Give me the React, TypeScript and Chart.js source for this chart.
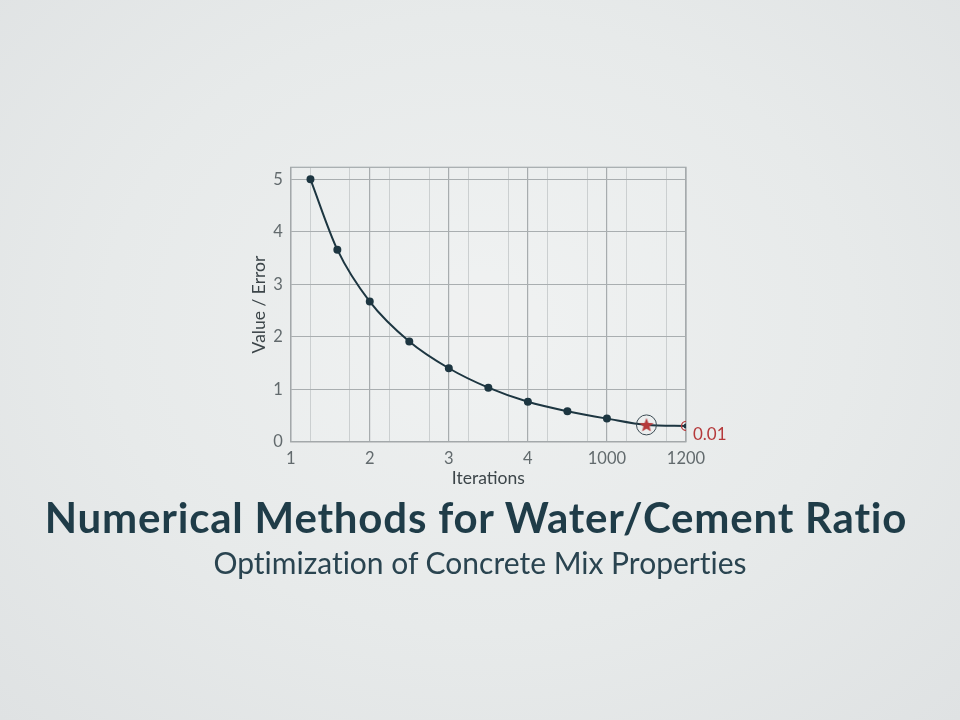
import React, { useEffect, useRef } from "react";
import { Chart, registerables } from "chart.js";

Chart.register(...registerables);

// ---- data ----
const xTickLabels = ["1", "2", "3", "4", "1000", "1200"];
const iterations = [1.25, 1.59, 2.0, 2.5, 3.0, 3.5, 4.0, 4.5, 5.0, 5.5, 6.0];
const errorValues = [5.0, 3.66, 2.67, 1.91, 1.4, 1.03, 0.76, 0.58, 0.44, 0.32, 0.3];
const gridPositions = [1, 1.25, 1.75, 2, 2.25, 2.75, 3, 3.25, 3.75, 4, 4.25, 4.75, 5, 5.25, 5.75, 6];
const yTicks = [0, 1, 2, 3, 4, 5];
const optimumIndex = 9;
const convergedIndex = 10;
const convergedLabel = "0.01";

const TITLE = "Numerical Methods for Water/Cement Ratio";
const SUBTITLE = "Optimization of Concrete Mix Properties";

const INK = "#1d3641";
const RED = "#b5393b";

function makeStar(): HTMLCanvasElement {
  const c = document.createElement("canvas");
  c.width = 18;
  c.height = 18;
  const g = c.getContext("2d")!;
  g.fillStyle = RED;
  g.beginPath();
  const cx = 9, cy = 9.5, ro = 7.5, ri = 3.2;
  for (let i = 0; i < 10; i++) {
    const r = i % 2 === 0 ? ro : ri;
    const a = -Math.PI / 2 + (i * Math.PI) / 5;
    const px = cx + r * Math.cos(a);
    const py = cy + r * Math.sin(a);
    if (i === 0) g.moveTo(px, py);
    else g.lineTo(px, py);
  }
  g.closePath();
  g.fill();
  return c;
}

export default function App() {
  const ref = useRef<HTMLCanvasElement | null>(null);

  useEffect(() => {
    if (!ref.current) return;
    const star = makeStar();
    const pts = iterations.map((x, i) => ({ x, y: errorValues[i] }));

    const framePlugin = {
      id: "frame",
      beforeDatasetsDraw(chart: any) {
        const { ctx, chartArea } = chart;
        ctx.save();
        ctx.strokeStyle = "#a4a9ab";
        ctx.lineWidth = 1.2;
        ctx.strokeRect(chartArea.left, chartArea.top, chartArea.right - chartArea.left, chartArea.bottom - chartArea.top);
        ctx.restore();
      },
      beforeDraw(chart: any) {
        const { ctx, chartArea } = chart;
        ctx.save();
        ctx.fillStyle = "rgba(255,255,255,0.12)";
        ctx.fillRect(chartArea.left, chartArea.top, chartArea.right - chartArea.left, chartArea.bottom - chartArea.top);
        ctx.restore();
      },
      afterDatasetsDraw(chart: any) {
        const meta = chart.getDatasetMeta(0);
        const p = meta.data[convergedIndex];
        if (!p) return;
        const { ctx } = chart;
        ctx.save();
        ctx.fillStyle = RED;
        ctx.font = "17px Lato";
        ctx.textAlign = "left";
        ctx.textBaseline = "middle";
        ctx.fillText(convergedLabel, p.x + 7, p.y + 9);
        ctx.restore();
      },
    };

    const chart = new Chart(ref.current, {
      type: "scatter",
      data: {
        datasets: [
          {
            data: pts,
            showLine: true,
            borderColor: INK,
            borderWidth: 2,
            cubicInterpolationMode: "monotone",
            pointBackgroundColor: INK,
            pointBorderColor: INK,
            pointRadius: pts.map((_, i) => (i === optimumIndex ? 0 : i === convergedIndex ? 1.5 : 3)),
            order: 2,
          } as any,
          {
            data: [pts[optimumIndex]],
            pointStyle: star as any,
            pointRadius: 9,
            order: 1,
          } as any,
          {
            data: [pts[optimumIndex]],
            pointRadius: 10,
            pointBackgroundColor: "rgba(0,0,0,0)",
            pointBorderColor: "#3a4a52",
            pointBorderWidth: 1,
            order: 0,
          } as any,
          {
            data: [pts[convergedIndex]],
            pointRadius: 4.5,
            pointBackgroundColor: "rgba(0,0,0,0)",
            pointBorderColor: RED,
            pointBorderWidth: 1.3,
            order: 0,
          } as any,
        ],
      },
      options: {
        animation: false,
        responsive: false,
        events: [],
        layout: { padding: { left: 248.4, right: 274, top: 167.3, bottom: 232.4 } },
        plugins: { legend: { display: false }, tooltip: { enabled: false }, title: { display: false } },
        scales: {
          x: {
            type: "linear",
            min: 1,
            max: 6,
            afterBuildTicks: (s: any) => {
              s.ticks = gridPositions.map((v) => ({ value: v }));
            },
            afterFit: (s: any) => {
              s.height = 45.9;
            },
            ticks: {
              autoSkip: false,
              maxRotation: 0,
              padding: 7,
              color: "#626a6d",
              font: { family: "Lato", size: 16.5 },
              callback: (v: any) => (Number.isInteger(v) ? xTickLabels[v - 1] : ""),
            },
            grid: {
              drawTicks: false,
              color: (c: any) => (Number.isInteger(c.tick?.value) ? "#a7acae" : "#cbcfd0"),
              lineWidth: (c: any) => (Number.isInteger(c.tick?.value) ? 1.2 : 1),
            },
            border: { color: "#9ea3a5", width: 1.2 },
            title: {
              display: true,
              text: "Iterations",
              color: "#3c4549",
              font: { family: "Lato", size: 17.5 },
              padding: { top: 0, bottom: -1.5 },
            },
          },
          y: {
            type: "linear",
            min: 0,
            max: 5.23,
            afterBuildTicks: (s: any) => {
              s.ticks = yTicks.map((v) => ({ value: v }));
            },
            afterFit: (s: any) => {
              s.width = 42.3;
            },
            ticks: {
              padding: 8,
              color: "#626a6d",
              font: { family: "Lato", size: 16.5 },
            },
            grid: { drawTicks: false, color: "#a9aeb0", lineWidth: 1.1 },
            border: { color: "#9ea3a5", width: 1.2 },
            title: {
              display: true,
              text: "Value / Error",
              color: "#3c4549",
              font: { family: "Lato", size: 17.5 },
              padding: 0,
            },
          },
        },
      } as any,
      plugins: [framePlugin],
    });
    return () => chart.destroy();
  }, []);

  return (
    <div
      style={{
        position: "absolute",
        left: 0,
        top: 0,
        width: 960,
        height: 720,
        overflow: "hidden",
        background: "radial-gradient(ellipse at 50% 45%, #eef0f0 0%, #e7eaea 55%, #dfe2e3 100%)",
      }}
    >
      <canvas ref={ref} width={960} height={720} style={{ position: "absolute", left: 0, top: 0, width: 960, height: 720 }} />
      <div
        style={{
          position: "absolute",
          left: -4,
          width: 960,
          top: 496,
          textAlign: "center",
          fontFamily: "Lato",
          fontWeight: 700,
          fontSize: 42,
          lineHeight: "42px",
          letterSpacing: "0.8px",
          color: "#1f3c48",
          whiteSpace: "nowrap",
          fontVariantLigatures: "none",
        }}
      >
        {TITLE}
      </div>
      <div
        style={{
          position: "absolute",
          left: 0,
          width: 960,
          top: 547,
          textAlign: "center",
          fontFamily: "Lato",
          fontWeight: 400,
          fontSize: 30,
          lineHeight: "30px",
          color: "#2a4450",
          whiteSpace: "nowrap",
          fontVariantLigatures: "none",
        }}
      >
        {SUBTITLE}
      </div>
    </div>
  );
}
